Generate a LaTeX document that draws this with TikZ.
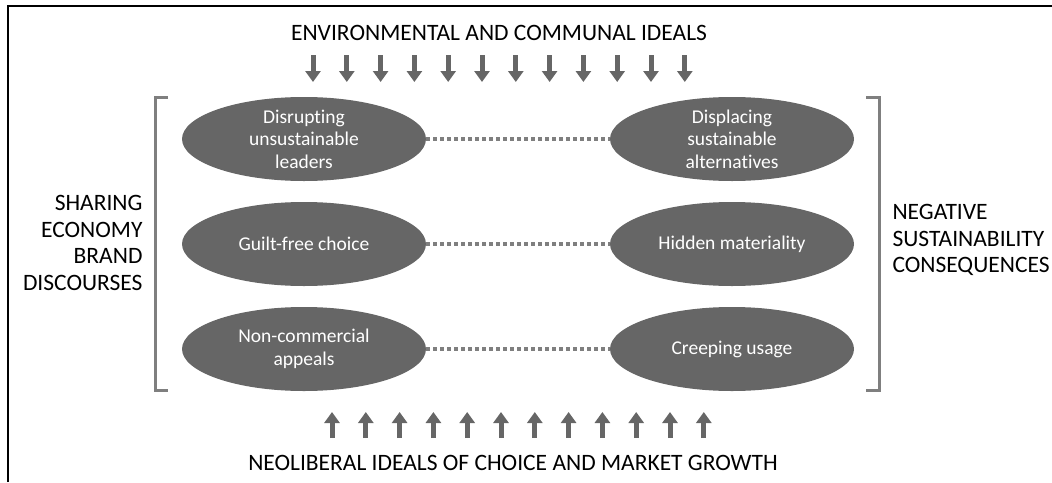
\documentclass[tikz,border=0pt]{standalone}
\usepackage{fontspec}
\setmainfont{Carlito}[Ligatures=NoCommon]
\usetikzlibrary{arrows.meta,shapes.geometric}
\usepackage{xcolor}
\definecolor{blobgray}{HTML}{666666}
\definecolor{rulegray}{HTML}{7F7F7F}

\begin{document}
\begin{tikzpicture}[x=1pt,y=-1pt,
      blob/.style={ellipse,fill=blobgray,text=white,minimum width=244pt,minimum height=84pt,inner sep=0pt,align=center,font=\fontsize{19.5}{22.5}\selectfont},
      side/.style={font=\fontsize{23.5}{26.7}\selectfont},
      head/.style={font=\fontsize{23.5}{28}\selectfont},
      link/.style={draw=rulegray,line width=4.5pt,dash pattern=on 4pt off 3pt},
      brk/.style={draw=rulegray,line width=3pt},
      push/.style={-{Triangle[length=11pt,width=15pt]},draw=blobgray,fill=blobgray,line width=5pt}]
    \useasboundingbox (0,0) rectangle (1052,482);
    \draw[line width=2.5pt] (8,482) -- (8,6) -- (1052,6);
    \node[head] (env) at (499,33) {ENVIRONMENTAL AND COMMUNAL IDEALS};
    \node[head] (neo) at (513,463) {NEOLIBERAL IDEALS OF CHOICE AND MARKET GROWTH};
    \foreach \i in {0,...,11}
      \draw[push] ({313+33.8*\i},55) -- ++(0,27);
    \foreach \i in {0,...,11}
      \draw[push] ({332+33.8*\i},438) -- ++(0,-26);
    \node[blob] (disrupt) at (304,139) {Disrupting\\unsustainable\\leaders};
    \node[blob] (displace) at (732,139) {Displacing\\sustainable\\alternatives};
    \node[blob] (guilt) at (304,244) {Guilt-free choice};
    \node[blob] (hidden) at (732,244) {Hidden materiality};
    \node[blob] (noncom) at (304,349) {Non-commercial\\appeals};
    \node[blob] (creep) at (732,349) {Creeping usage};
    \draw[link] (disrupt) -- (displace);
    \draw[link] (guilt) -- (hidden);
    \draw[link] (noncom) -- (creep);
    \draw[brk] (168,97) -- (155,97) -- (155,390) -- (168,390);
    \draw[brk] (866,97) -- (879,97) -- (879,390) -- (866,390);
    \node[side,anchor=east,align=right] (sharing) at (146,243) {SHARING\\ECONOMY\\BRAND\\DISCOURSES};
    \node[side,anchor=west,align=left] (negative) at (889,240) {NEGATIVE\\SUSTAINABILITY\\CONSEQUENCES};
  \end{tikzpicture}
\end{document}
